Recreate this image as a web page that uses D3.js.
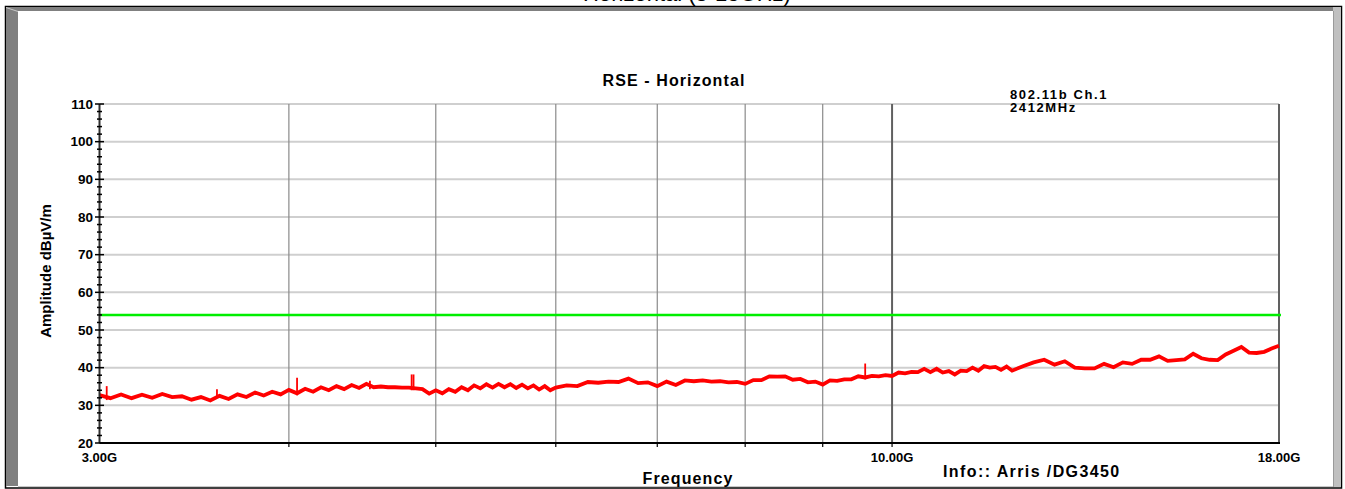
<!DOCTYPE html>
<html><head><meta charset="utf-8">
<script src="https://cdn.jsdelivr.net/npm/d3@7"></script>
<style>
html,body{margin:0;padding:0;background:#fff;}
svg{display:block;font-family:"Liberation Sans",Arial,sans-serif;}
</style></head>
<body>
<svg id="c" width="1345" height="489"></svg>
<script>
// ---------- data ----------
const freqA = [3.00,3.05,3.10,3.15,3.20,3.25,3.30,3.35,3.40,3.45,3.50,3.55,3.60,3.65,3.70,3.75,3.80,3.85,3.90,3.95,
  4.00,4.05,4.10,4.15,4.20,4.25,4.30,4.35,4.40,4.45,4.50,4.55,4.60,4.65,4.70,4.75,4.80,4.85,4.90,4.95,
  5.00,5.05,5.10,5.15,5.20,5.25,5.30,5.35,5.40,5.45,5.50,5.55,5.60,5.65,5.70,5.75,5.80,5.85,5.90,5.95,6.00];
const ampA = [32.7,31.9,32.9,31.9,32.8,32.0,33.0,32.2,32.4,31.5,
  32.2,31.3,32.5,31.7,32.9,32.2,33.4,32.6,33.6,32.9,
  34.1,33.2,34.4,33.6,34.8,34.0,35.1,34.3,35.4,34.6,
  35.7,34.8,35.0,34.8,34.8,34.7,34.7,34.5,34.3,33.1,
  34.0,33.2,34.3,33.6,34.8,34.0,35.3,34.5,35.6,34.7,
  35.7,34.8,35.6,34.6,35.5,34.5,35.3,34.2,35.1,34.0,34.7];
const freqB = [6.1,6.2,6.3,6.4,6.5,6.6,6.7,6.8,6.9,7.0,7.1,7.2,7.3,7.4,7.5,7.6,7.7,7.8,7.9,8.0,
  8.1,8.2,8.3,8.4,8.5,8.6,8.7,8.8,8.9,9.0,9.1,9.2,9.3,9.4,9.5,9.6,9.7,9.8,9.9,10.0,
  10.1,10.2,10.3,10.4,10.5,10.6,10.7,10.8,10.9,11.0,11.1,11.2,11.3,11.4,11.5,11.6,11.7,11.8,11.9,12.0];
const ampB = [35.3,35.1,36.2,36.0,36.3,36.2,37.1,35.9,36.1,35.1,
  36.3,35.4,36.6,36.4,36.6,36.3,36.4,36.1,36.2,35.7,
  36.7,36.7,37.7,37.6,37.7,36.8,37.0,36.1,36.3,35.5,
  36.6,36.5,36.9,36.9,37.7,37.4,37.8,37.7,38.0,37.8,
  38.7,38.5,38.9,38.8,39.7,38.8,39.7,38.7,39.1,38.2,
  39.2,39.1,40.0,39.2,40.4,40.0,40.2,39.4,40.3,39.2];
const freqC = [12.2,12.4,12.6,12.8,13.0,13.2,13.4,13.6,13.8,14.0,14.2,14.4,14.6,14.8,15.0,
  15.2,15.4,15.6,15.8,16.0,16.2,16.4,16.6,16.8,17.0,17.2,17.4,17.6,17.8,18.0];
const ampC = [40.4,41.4,42.1,40.8,41.7,40.0,39.8,39.8,41.0,40.1,41.4,41.0,42.1,42.1,43.0,
  41.8,42.0,42.2,43.7,42.5,42.1,42.0,43.5,44.5,45.5,44.0,43.9,44.2,45.1,45.8];
const spikeFreq = [3.033,3.586,4.05,4.524,4.82,4.834,9.6];
const spikeAmp  = [35.1,34.3,37.3,36.5,38.2,38.2,41.1];
const limitValue = 54;
const yTicks = [20,30,40,50,60,70,80,90,100,110];
const xGrid = [4,5,6,7,8,9];
const xLabels = [{f:3,t:"3.00G"},{f:10,t:"10.00G"},{f:18,t:"18.00G"}];

// ---------- chart ----------
const svg = d3.select("#c");
const x = d3.scaleLog().domain([3,18]).range([99.5,1279]);
const y = d3.scaleLinear().domain([20,110]).range([443,104]);

// frame
svg.append("rect").attr("x",0).attr("y",0).attr("width",1345).attr("height",489).attr("fill","#fff");
svg.append("text").attr("x",687).attr("y",1).attr("text-anchor","middle")
  .attr("font-size",22).attr("fill","#000").text("Horizontal (3-18GHz)");
svg.append("rect").attr("x",5.5).attr("y",6.5).attr("width",1336).attr("height",481.5)
  .attr("fill","none").attr("stroke","#000").attr("stroke-width",1.5);
svg.append("polygon").attr("points","6,7 1334,7 1334,11 18,11 18,486 6,486").attr("fill","#808080");
svg.append("polygon").attr("points","6,7 18,11 18,12 6,8").attr("fill","#c8c8c8");
svg.append("rect").attr("x",1333).attr("y",7).attr("width",8).attr("height",480).attr("fill","#c0c0c0");
svg.append("line").attr("x1",1333.5).attr("x2",1333.5).attr("y1",11).attr("y2",487).attr("stroke","#9a9a9a");
svg.append("line").attr("x1",18).attr("x2",1333).attr("y1",486.5).attr("y2",486.5).attr("stroke","#c8c8c8");

// horizontal grid
svg.append("g").selectAll("line").data(yTicks.filter(d=>d>20)).join("line")
  .attr("x1",100).attr("x2",1279).attr("y1",d=>y(d)).attr("y2",d=>y(d))
  .attr("stroke","#cfcfcf").attr("stroke-width",2);
// vertical grid
svg.append("g").selectAll("line").data(xGrid).join("line")
  .attr("x1",d=>x(d)).attr("x2",d=>x(d)).attr("y1",104).attr("y2",443)
  .attr("stroke","#8a8a8a").attr("stroke-width",1.2);
svg.append("line").attr("x1",x(10)).attr("x2",x(10)).attr("y1",104).attr("y2",443)
  .attr("stroke","#606060").attr("stroke-width",2);
svg.append("line").attr("x1",x(18)).attr("x2",x(18)).attr("y1",104).attr("y2",443)
  .attr("stroke","#606060").attr("stroke-width",2);

// limit line
svg.append("line").attr("x1",100).attr("x2",1281).attr("y1",y(limitValue)).attr("y2",y(limitValue))
  .attr("stroke","#00ee00").attr("stroke-width",2.5);

// trace
const freqs = freqA.concat(freqB, freqC);
const amps = ampA.concat(ampB, ampC);
const pts = freqs.map((f,i)=>[f,amps[i]]);
svg.append("path").datum(pts)
  .attr("d", d3.line().x(d=>x(d[0])).y(d=>y(d[1])))
  .attr("fill","none").attr("stroke","#ff0000").attr("stroke-width",3.8).attr("stroke-linejoin","miter");
// spikes
const baseAt = f => { const i = d3.bisectLeft(freqs,f); return amps[Math.min(i,amps.length-1)]; };
svg.append("g").selectAll("line").data(spikeFreq).join("line")
  .attr("x1",d=>x(d)).attr("x2",d=>x(d))
  .attr("y1",d=>y(baseAt(d)-0.5)).attr("y2",(d,i)=>y(spikeAmp[i]))
  .attr("stroke","#ff0000").attr("stroke-width",1.8);

// y axis
const minor = d3.range(20,110.1,2);
svg.append("line").attr("x1",99.5).attr("x2",99.5).attr("y1",104).attr("y2",443)
  .attr("stroke","#303030").attr("stroke-width",2);
svg.append("g").selectAll("line").data(minor).join("line")
  .attr("x1",d=>d%10===0?95:97).attr("x2",d=>d%10===0?104:102)
  .attr("y1",d=>y(d)).attr("y2",d=>y(d)).attr("stroke","#000").attr("stroke-width",1.5);
const ya = svg.append("g").attr("transform","translate(93,0)")
  .call(d3.axisLeft(y).tickValues(yTicks).tickSize(0).tickPadding(0));
ya.select(".domain").remove();
ya.selectAll("text").attr("font-size",13.5).attr("font-weight","bold").attr("fill","#000")
  .attr("font-family","Liberation Sans, Arial, sans-serif");

// x axis
svg.append("line").attr("x1",99.5).attr("x2",1280).attr("y1",443).attr("y2",443)
  .attr("stroke","#000").attr("stroke-width",2);
svg.append("g").selectAll("line").data(xGrid.concat([10])).join("line")
  .attr("x1",d=>x(d)).attr("x2",d=>x(d)).attr("y1",443).attr("y2",447)
  .attr("stroke","#000").attr("stroke-width",1.2);
svg.append("g").selectAll("text").data(xLabels).join("text")
  .attr("x",d=>x(d.f)).attr("y",462).attr("text-anchor","middle")
  .attr("font-size",13).attr("font-weight","bold").text(d=>d.t);

// titles
svg.append("text").attr("x",674).attr("y",86).attr("text-anchor","middle")
  .attr("font-size",16).attr("font-weight","bold").attr("letter-spacing",1.1).text("RSE - Horizontal");
svg.append("text").attr("x",1010).attr("y",98.5).attr("font-size",13).attr("font-weight","bold")
  .attr("letter-spacing",1.6).text("802.11b Ch.1");
svg.append("text").attr("x",1010).attr("y",112).attr("font-size",13).attr("font-weight","bold")
  .attr("letter-spacing",1.6).text("2412MHz");
svg.append("text").attr("x",688).attr("y",484).attr("text-anchor","middle")
  .attr("font-size",16).attr("font-weight","bold").attr("letter-spacing",1.1).text("Frequency");
svg.append("text").attr("x",943).attr("y",477).attr("font-size",16).attr("font-weight","bold")
  .attr("letter-spacing",1.4).text("Info:: Arris /DG3450");
svg.append("text").attr("transform","translate(51,271) rotate(-90)").attr("text-anchor","middle")
  .attr("font-size",15).attr("font-weight","bold").text("Amplitude dBµV/m");
</script>
</body></html>
